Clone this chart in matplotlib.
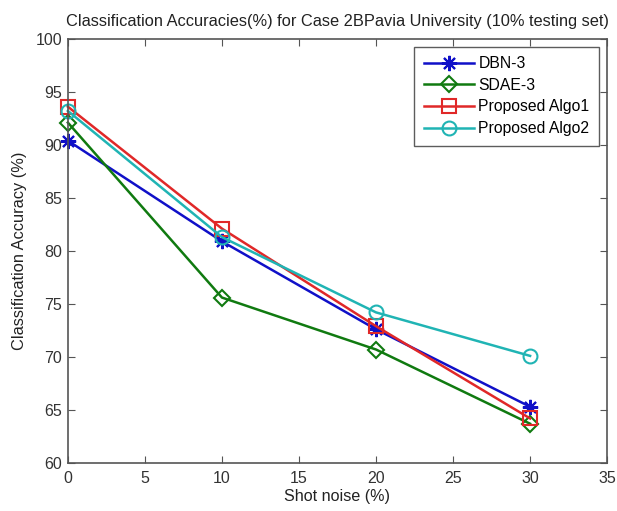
import numpy as np
import matplotlib
matplotlib.use('Agg')
import matplotlib.pyplot as plt

plt.rcParams['font.family'] = ['Liberation Sans', 'DejaVu Sans']

# ---------------- data ----------------
noise = [0, 10, 20, 30]
dbn3 = [90.4, 80.9, 72.6, 65.3]
sdae3 = [92.1, 75.6, 70.7, 63.7]
algo1 = [93.6, 82.1, 72.9, 64.2]
algo2 = [93.2, 81.3, 74.2, 70.1]

labels = ['DBN-3', 'SDAE-3', 'Proposed Algo1', 'Proposed Algo2']
x_ticks = [0, 5, 10, 15, 20, 25, 30, 35]
y_ticks = [60, 65, 70, 75, 80, 85, 90, 95, 100]

# ---------------- plot ----------------
fig = plt.figure(figsize=(6.17, 5.11), dpi=100)
ax = fig.add_axes([0.110, 0.094, 0.874, 0.830])

# MATLAB style asterisk: 8 spokes (+ and x together)
ax.plot(noise, dbn3, color='#1010c8', marker=(8, 2, 0), markersize=11, markeredgewidth=1.5,
        linewidth=1.8, label=labels[0], clip_on=False)
ax.plot(noise, sdae3, color='#107a10', marker='D', markersize=8, markerfacecolor='none',
        markeredgewidth=1.5, linewidth=1.8, label=labels[1], clip_on=False)
ax.plot(noise, algo1, color='#e02828', marker='s', markersize=10, markerfacecolor='none',
        markeredgewidth=1.5, linewidth=1.8, label=labels[2], clip_on=False)
ax.plot(noise, algo2, color='#20b4b4', marker='o', markersize=10, markerfacecolor='none',
        markeredgewidth=1.5, linewidth=1.8, label=labels[3], clip_on=False)

ax.set_xlim(0, 35)
ax.set_ylim(60, 100)
ax.set_xticks(x_ticks)
ax.set_yticks(y_ticks)
ax.tick_params(direction='in', top=True, right=True, length=5, color='#555555',
               labelsize=11.5, labelcolor='#333333')
ax.tick_params(axis='x', pad=6)
ax.tick_params(axis='y', pad=4)
for s in ax.spines.values():
    s.set_color('#555555')
    s.set_linewidth(1.2)

ax.set_title('Classification Accuracies(%) for Case 2BPavia University (10% testing set)',
             fontsize=11.8, color='#222222', pad=9)
ax.set_xlabel('Shot noise (%)', fontsize=11.6, color='#222222', labelpad=2)
ax.set_ylabel('Classification Accuracy (%)', fontsize=11.8, color='#222222', labelpad=6)

leg = ax.legend(loc='upper right', fontsize=11.3, frameon=True, fancybox=False,
                handlelength=3.2, borderpad=0.6, labelspacing=0.42,
                handletextpad=0.3, borderaxespad=0, bbox_to_anchor=(0.985, 0.981))
leg.get_frame().set_edgecolor('#333333')
leg.get_frame().set_linewidth(1.0)

plt.savefig('out.png', dpi=100)
